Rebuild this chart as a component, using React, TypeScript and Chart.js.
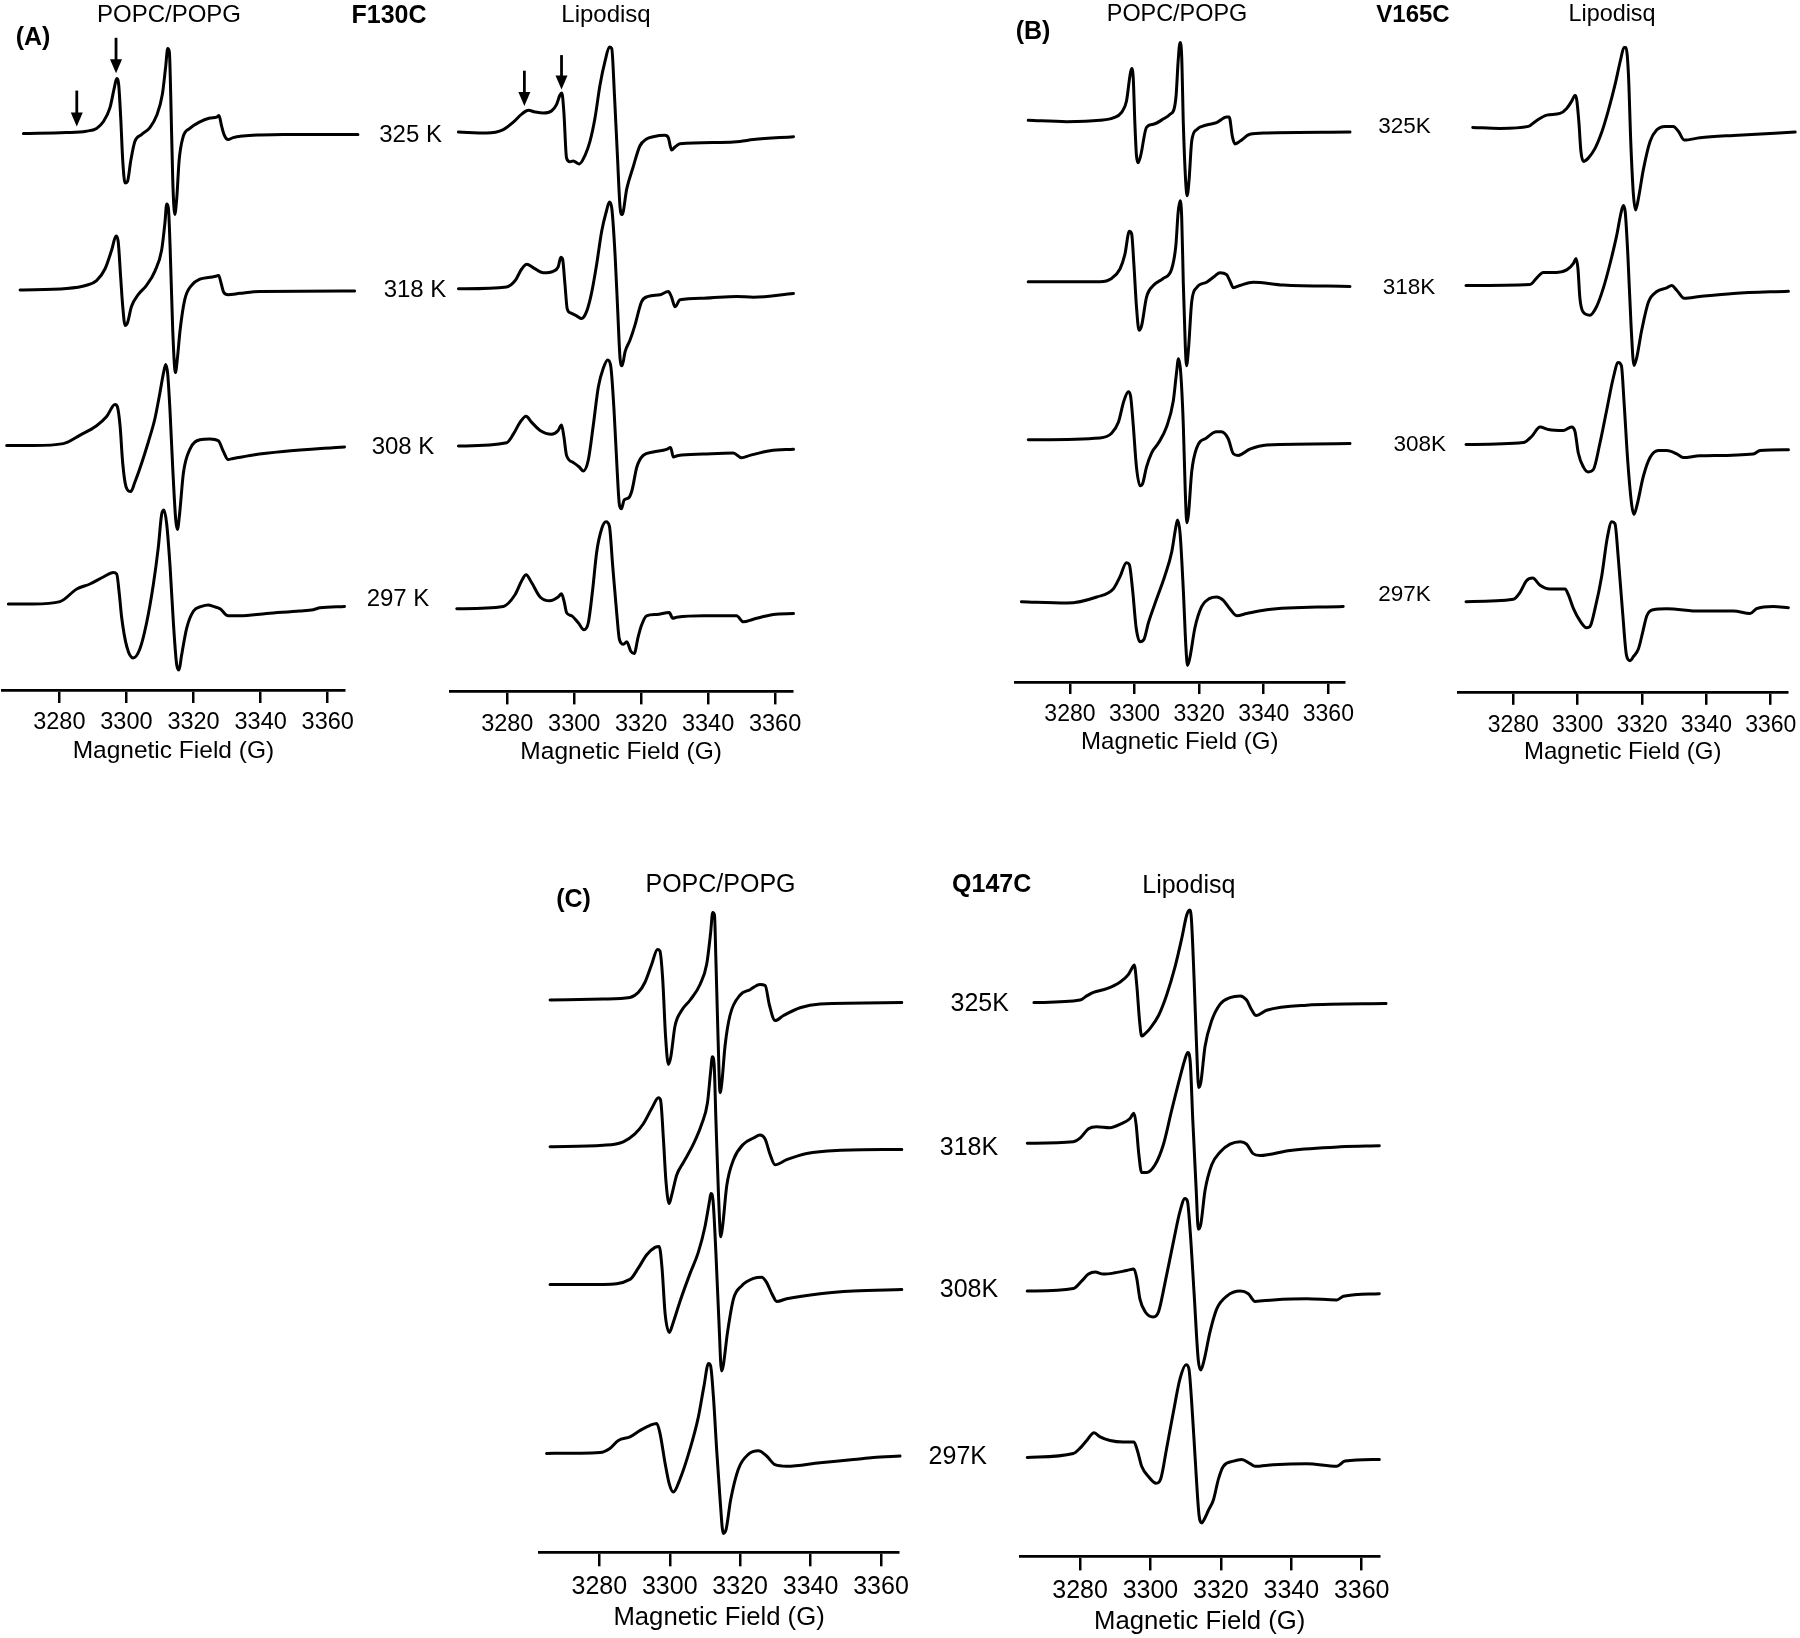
import React, { useEffect, useRef } from 'react';
import { Chart, registerables } from 'chart.js';

Chart.register(...registerables);

type Pt = [number, number];

const FONT = '"Liberation Sans", Arial, Helvetica, sans-serif';
const FIELD_MIN = 3263;
const FIELD_MAX = 3365;
const FIELD_TICKS = [3280, 3300, 3320, 3340, 3360];
const AXIS_TITLE = 'Magnetic Field (G)';

// ---------- (A) F130C, POPC/POPG ----------
const A_POPC_325: Pt[] = [[3269.3,0],[3282,1],[3288,2.4],[3291.1,5.2],[3293.1,11.8],[3295.1,26],[3296.4,46],[3297.1,55],[3297.7,48.6],[3298.3,15.6],[3298.9,-27],[3299.6,-49.5],[3300.3,-48],[3301.3,-27],[3302.5,-8],[3304.5,-1],[3307,6],[3309,18],[3310.7,39],[3311.7,67],[3312.3,85],[3312.8,81.7],[3313.2,39],[3313.8,-45.8],[3314.4,-81],[3315,-64.6],[3315.7,-27],[3316.9,-3.3],[3318.9,5.2],[3321.9,11.8],[3324.9,15.6],[3326.9,16.5],[3327.6,18],[3328.3,8.5],[3329.1,-1],[3330.3,-6],[3331.8,-4],[3334.8,-2.4],[3339.8,-1.4],[3346.7,-0.8],[3369,-0.8]];
const A_POPC_318: Pt[] = [[3268.3,0],[3282.2,1.4],[3288.1,4.7],[3291.1,9.4],[3293.6,21],[3295.6,40],[3296.9,54],[3297.5,49.6],[3298.3,11.8],[3298.9,-16.5],[3299.6,-35.4],[3300.3,-33],[3301.5,-16.5],[3303.5,-4.7],[3306,4.7],[3308.5,18.9],[3310.5,40],[3311.5,68],[3312,86],[3312.5,82],[3313,45],[3313.8,-40],[3314.6,-82.6],[3315.2,-68],[3316,-40],[3317.4,-9.4],[3319.4,4.7],[3321.9,10.8],[3324.9,12.7],[3326.9,14],[3327.5,14.6],[3328.2,7],[3329,-2.4],[3330.3,-4.7],[3333.8,-3.3],[3339.8,-1.4],[3368,-1]];
const A_POPC_308: Pt[] = [[3264.3,0],[3272.3,0],[3281.2,1.9],[3286.2,10.4],[3291.1,19.8],[3294.1,29],[3296.6,41],[3297.3,38.7],[3298.1,19.8],[3298.9,-18],[3299.9,-41.5],[3301.3,-46],[3302.5,-36.8],[3304.5,-18],[3306.5,3.3],[3308.5,27],[3310,53],[3311,71.7],[3311.7,81],[3312.3,71.7],[3313,34],[3313.8,-22.6],[3314.7,-74.5],[3315.2,-84],[3315.8,-70],[3317,-27],[3318.9,-3.8],[3321.9,5.7],[3324.9,6.6],[3327.4,4.7],[3328.9,-6],[3330.3,-14],[3331.8,-13],[3337.8,-9.4],[3346.7,-6],[3365,-1.4]];
const A_POPC_297: Pt[] = [[3264.8,0],[3272.3,0],[3280.2,2.4],[3285.2,15],[3289.1,20],[3293.1,27],[3296.1,31.6],[3297.1,30],[3297.9,9.4],[3298.6,-14],[3300.1,-42.5],[3302,-54],[3304,-45],[3306,-19],[3308,19],[3309.5,56.6],[3310.5,89.7],[3311.2,94],[3312,80],[3313,37.8],[3314,-19],[3315,-61],[3315.7,-66],[3316.4,-52],[3318,-23.6],[3320,-7],[3322.4,-2.4],[3324.4,-1],[3325.9,-2.4],[3327.9,-4.7],[3330.3,-11.8],[3333.8,-11.8],[3341.8,-9.4],[3351.7,-7],[3355.7,-5.7],[3357.7,-3.8],[3365,-2.4]];

// ---------- (A) F130C, Lipodisq ----------
const A_LIPO_325: Pt[] = [[3265.4,0],[3273.8,-1],[3278.8,2.4],[3281.8,9.9],[3284.3,17.9],[3286.3,21.7],[3288.3,20],[3290.8,18.9],[3293.2,21],[3294.7,27.4],[3295.7,36.8],[3296.3,39],[3296.9,20],[3297.7,-26],[3298.7,-29.7],[3299.7,-29],[3301.5,-32],[3303.2,-23.6],[3304.7,-9.4],[3306.2,14],[3307.7,47],[3309.2,70.8],[3310.5,85],[3311.2,83.6],[3312,37.8],[3312.9,-23.6],[3313.7,-75.5],[3314.3,-82.6],[3315.7,-56.6],[3317.6,-35],[3319.6,-14],[3321.6,-7],[3323.6,-4.7],[3327.1,-3.3],[3328.1,-5.7],[3329.1,-18],[3330.1,-15],[3331.6,-11.8],[3343.5,-10.4],[3349.5,-9.4],[3353.5,-7.6],[3365.5,-4.7]];
const A_LIPO_318: Pt[] = [[3265.4,0],[3279.8,1.9],[3282.3,8],[3284.3,19.8],[3285.8,24.5],[3287.8,21],[3290.8,16],[3293.7,17.5],[3295.2,22],[3296,31.6],[3296.5,30],[3297.2,5.7],[3297.9,-20],[3298.9,-24],[3300.7,-27],[3302.2,-29.7],[3303.7,-22.6],[3305.2,-3.8],[3306.7,24.5],[3308.2,57.6],[3309.7,78.8],[3310.5,86.8],[3311.2,81],[3312.2,34],[3313,-22.6],[3313.7,-70],[3314.3,-77],[3315.2,-62.8],[3316.7,-51],[3318.1,-36.8],[3320.1,-13],[3322.1,-7.6],[3325.6,-6],[3328.1,-2.8],[3329.1,-8.5],[3330.1,-18],[3331.6,-11],[3338.6,-9.4],[3348.5,-7.6],[3353.5,-8.5],[3365.5,-4.7]];
const A_LIPO_308: Pt[] = [[3265.4,0],[3279.8,3.3],[3281.8,11.8],[3283.8,23.6],[3285.6,29.7],[3287.3,23.6],[3289.8,15.6],[3293.2,11.8],[3295.2,15.6],[3296.2,21],[3296.9,9.4],[3297.7,-9.4],[3299.7,-16.5],[3301.5,-21],[3302.7,-25],[3304.2,-14],[3305.7,21],[3307.2,59],[3308.7,77.9],[3310,86],[3310.9,80],[3311.9,35],[3312.7,-16.5],[3313.5,-59],[3314.1,-62.8],[3314.9,-54],[3316.2,-52],[3317.2,-45],[3318.7,-21],[3320.6,-9.4],[3323.6,-6],[3327.6,-3.3],[3328.8,-1.4],[3329.6,-11],[3331.1,-9.4],[3338.6,-8],[3347.5,-7],[3350,-11.8],[3352.5,-9.4],[3358.5,-4.7],[3365.5,-3.3]];
const A_LIPO_297: Pt[] = [[3264.9,0],[3278.8,2.4],[3282.3,14],[3284.3,28],[3285.6,34],[3287.3,26],[3289.8,11.8],[3292.7,8],[3295.2,11.8],[3296.2,15],[3297,7],[3297.7,-3.8],[3299.2,-7],[3301.2,-14],[3302.9,-21],[3304.2,-14],[3305.5,19],[3306.7,56.6],[3308.2,80],[3309.5,87],[3310.5,82.6],[3311.5,42.5],[3312.7,-4.7],[3313.5,-30.7],[3314.7,-35.4],[3315.7,-33],[3316.9,-42.5],[3317.9,-44.8],[3319.1,-28],[3320.1,-16.5],[3321.6,-7],[3324.6,-5.7],[3328.4,-3.8],[3329.4,-9.4],[3330.6,-8.5],[3338.6,-7],[3348.5,-7],[3350.5,-13],[3353.5,-10.4],[3359.5,-5.7],[3365.5,-4.7]];

// ---------- (B) V165C, POPC/POPG ----------
const B_POPC_325: Pt[] = [[3267.1,0],[3279,-1.4],[3289.3,0],[3293.4,2.4],[3296,8],[3297.5,19],[3298.6,44.8],[3299.1,51.9],[3299.6,42.5],[3300.1,-2.4],[3300.6,-35.4],[3301.1,-42.5],[3301.9,-35.4],[3303.7,-7],[3305.8,-4],[3309,1.5],[3311,6],[3312.3,12],[3312.9,26],[3313.5,59],[3314.1,77.9],[3314.6,63.7],[3315.1,-2.4],[3315.8,-59],[3316.3,-75.5],[3316.9,-59],[3317.7,-21],[3319.2,-9.4],[3322.3,-4.7],[3325.4,-2.4],[3328.5,3.3],[3329.3,3.3],[3330.3,-16.5],[3331.1,-23.6],[3332.6,-21],[3335.7,-14],[3340.9,-12.7],[3366.7,-11.8]];
const B_POPC_318: Pt[] = [[3267.1,0],[3289.3,0],[3292.9,3.3],[3295.5,12.7],[3297,27],[3298.4,50.5],[3299.1,48],[3299.8,17.5],[3300.6,-25],[3301.4,-48.6],[3302.2,-43.9],[3303.7,-15.6],[3305.8,-3.8],[3308.9,3.3],[3311.5,12.7],[3312.8,36.3],[3313.5,69.4],[3314.1,81],[3314.6,64.7],[3315.1,-1.4],[3315.7,-62.8],[3316.1,-84],[3316.7,-67.5],[3317.7,-20],[3319.2,-6],[3322.3,-0.5],[3324.9,5.7],[3326.4,9],[3328.5,7],[3329.5,1],[3330.6,-6],[3332.6,-3.8],[3336.7,-0.5],[3346,-3.3],[3366.7,-4.7]];
const B_POPC_308: Pt[] = [[3267.1,0],[3289.3,1.9],[3292.9,6.6],[3295,17.5],[3296.7,38.7],[3298.1,48],[3298.8,43.4],[3299.6,15],[3300.6,-27.4],[3301.7,-46],[3302.5,-43.9],[3303.7,-27.4],[3305.3,-13],[3307.3,-3.8],[3309.9,12.7],[3312,38.7],[3313,67],[3313.6,81],[3314.3,67],[3315.1,15],[3315.7,-51],[3316.2,-83],[3316.7,-74.5],[3317.7,-32],[3319.2,-8.5],[3322.3,1.9],[3325.4,8],[3326.9,8],[3329,1],[3330.6,-14],[3332.1,-15.6],[3335.7,-9.4],[3340.9,-5.2],[3366.7,-3.8]];
const B_POPC_297: Pt[] = [[3265,0],[3279,-1.4],[3288.3,4.7],[3293.4,12.7],[3295.5,25],[3297.5,39],[3298.4,37],[3299.4,11.8],[3300.5,-26],[3301.7,-40],[3302.9,-37.8],[3304.3,-21],[3306.8,2.4],[3309.4,26],[3311.5,49.6],[3312.7,73],[3313.3,81.6],[3314.1,68.4],[3315.1,11.8],[3315.9,-44.8],[3316.4,-63.7],[3317.1,-56.6],[3318.7,-26],[3320.8,-4.7],[3323.3,3.3],[3325.4,4.7],[3327.5,1.4],[3329.5,-7],[3331.6,-14],[3334.7,-11.8],[3340.9,-8],[3364.6,-4.7]];

// ---------- (B) V165C, Lipodisq ----------
const B_LIPO_325: Pt[] = [[3267.4,0],[3275.9,-1],[3284.7,1],[3287.3,7],[3290.4,12.3],[3294.5,14],[3296.6,19],[3298.1,26],[3299.2,32],[3299.7,28],[3300.4,4.7],[3301,-23.6],[3301.8,-34],[3303.3,-30.7],[3305.4,-21],[3307.5,-4.7],[3309.5,16.5],[3311.6,42.5],[3313.4,68.4],[3314.4,80],[3315,80],[3315.8,51.9],[3316.5,-14],[3317.3,-66],[3318,-82.6],[3318.9,-70.8],[3320.4,-42.5],[3322.5,-14],[3324.6,-2.4],[3327.2,1],[3329.7,1],[3331.3,-3.8],[3333.1,-12.7],[3338,-10.4],[3348.4,-8],[3367.6,-4.7]];
const B_LIPO_318: Pt[] = [[3265.3,0],[3285.2,1],[3287.3,7.6],[3289.3,13],[3293.5,13],[3296.6,15.6],[3298.7,22.2],[3299.5,27],[3300.1,16.5],[3300.7,-12.7],[3301.6,-26],[3303.8,-29.7],[3305.9,-21],[3308,-2.4],[3310,21],[3312.1,49.6],[3313.5,73],[3314.2,80],[3314.8,73],[3315.6,30.7],[3316.6,-40],[3317.5,-80],[3318.3,-73],[3319.9,-44.8],[3322,-16.5],[3324.6,-6],[3327.7,-2.4],[3329.2,0],[3330.8,-4.7],[3333.1,-12.7],[3338,-11],[3348.4,-8],[3365.5,-5.7]];
const B_LIPO_308: Pt[] = [[3265.3,0],[3283.1,1.9],[3285.7,8],[3288.3,17.5],[3290.9,15],[3295.5,14],[3298.1,17.5],[3299.2,12.7],[3300.2,-8.5],[3301.8,-22.6],[3303.3,-27.4],[3304.9,-25],[3306.9,1],[3309,34],[3311.1,67],[3312.6,82],[3313.6,78.8],[3314.4,43.4],[3315.6,-18],[3316.8,-60.4],[3317.5,-70],[3318.5,-60],[3320.4,-32],[3322.5,-13],[3325.1,-6],[3327.7,-6],[3330.8,-9.4],[3332.8,-13],[3338,-11.3],[3354.6,-9.4],[3356.7,-6],[3365.5,-5.2]];
const B_LIPO_297: Pt[] = [[3265.3,0],[3280,2.4],[3282.1,9.4],[3284.1,21],[3286,23.6],[3288.3,16.5],[3291.4,12.7],[3296.1,12.7],[3297.1,7],[3298.7,-7],[3300.7,-19],[3302.8,-26],[3303.8,-25],[3305.4,-7],[3307.5,26],[3309.2,63.7],[3310.6,80],[3311.6,78],[3312.6,44.8],[3314,-11.8],[3315.2,-54],[3316.3,-59],[3317.3,-55],[3318.9,-47],[3320.2,-30.7],[3321.5,-14],[3323.5,-8],[3327.7,-7],[3338,-9.4],[3348.4,-9.4],[3353.6,-11.8],[3355.6,-7],[3360.8,-4.7],[3365.5,-6]];

// ---------- (C) Q147C, POPC/POPG ----------
const C_POPC_325: Pt[] = [[3266,0],[3281.1,1],[3288.7,2.6],[3291.1,7.7],[3293,18],[3294.9,36],[3296.5,50.5],[3297.2,49],[3298,20.6],[3298.8,-36],[3299.6,-64.4],[3300.3,-56.7],[3301.5,-25.8],[3303.4,-10.3],[3305.8,0],[3308.6,15.5],[3310.5,36],[3311.6,67],[3312.2,87.6],[3312.7,85],[3313.1,41],[3313.7,-36],[3314.3,-92.7],[3314.8,-82.4],[3315.7,-46],[3317.1,-15.5],[3320,5],[3322.8,10.3],[3325.6,15.5],[3327.1,14.4],[3328.3,-5],[3329.9,-20.6],[3332.3,-15.5],[3337,-7.7],[3342.7,-4],[3365.9,-2.6]];
const C_POPC_318: Pt[] = [[3266,0],[3281.1,1.5],[3286.8,5],[3290.1,12.9],[3292.5,23],[3294.9,38.6],[3296.8,49],[3297.4,46.4],[3298.2,7.7],[3298.9,-33.5],[3299.8,-56.7],[3300.5,-49],[3302,-28],[3303.9,-15.5],[3306.7,2.6],[3309.1,23],[3310.7,43.8],[3311.6,74.7],[3312.1,90],[3312.6,82.4],[3313.1,28],[3313.8,-43.8],[3314.5,-90],[3315,-79.8],[3316.2,-38.6],[3318.1,-12.9],[3320.9,2.6],[3323.8,8.8],[3325.6,11.8],[3327.1,7.7],[3328.5,-7.7],[3329.9,-18],[3333.2,-12.9],[3338.9,-6.7],[3347.4,-3.6],[3365.9,-2.6]];
const C_POPC_308: Pt[] = [[3266,0],[3281.1,0],[3288.7,5],[3291.1,16.5],[3293.4,29.4],[3295.8,37],[3297,38],[3297.8,16.5],[3298.7,-30],[3299.9,-48],[3300.8,-40],[3302.9,-17],[3305.8,11.3],[3308.1,32],[3310,57.7],[3311.3,83.5],[3311.7,91],[3312.3,83.5],[3313.1,32],[3314,-40],[3314.7,-86.5],[3315.2,-81],[3316.4,-48],[3318.1,-14.4],[3320.4,-1.5],[3323.8,6],[3326.1,7.2],[3327.5,2],[3329,-9.3],[3330.4,-17],[3333.2,-14.4],[3342.7,-9.3],[3352.2,-6.7],[3365.9,-5.2]];
const C_POPC_297: Pt[] = [[3265,0],[3280.2,1],[3283,5],[3285.4,13],[3288.7,16.5],[3291.6,23],[3294.4,28],[3296.3,30],[3297.2,20.6],[3298.7,-10.3],[3299.9,-31],[3301,-38.6],[3302.9,-25.8],[3305.8,5],[3308.1,36],[3309.7,67],[3311,90],[3311.6,87.6],[3312.4,56.7],[3313.3,5],[3314.3,-46.4],[3315.2,-80],[3316,-76],[3317.3,-46.4],[3319.5,-15.5],[3322.3,-1],[3325.2,2.6],[3327.5,-2.6],[3329.9,-11.3],[3333.2,-12.9],[3342.7,-9.3],[3352.2,-6.2],[3357.8,-4],[3365.4,-2.6]];

// ---------- (C) Q147C, Lipodisq ----------
const C_LIPO_325: Pt[] = [[3266.9,0],[3280,2.6],[3281.9,6.7],[3283.8,10.3],[3287.6,13.9],[3291.4,20.6],[3293.7,28],[3295,36],[3295.4,37.6],[3296.1,18],[3296.9,-18],[3297.5,-33.5],[3298.5,-31],[3299.9,-25.8],[3302.3,-12.9],[3304.6,7.7],[3307,36],[3308.9,64.4],[3310.3,87.6],[3311.1,92.7],[3311.6,85],[3312.4,23],[3313.1,-43.8],[3313.7,-85],[3314.3,-80],[3315.5,-43.8],[3317.4,-18],[3319.8,-1.5],[3322.6,5],[3325.5,6.7],[3327.3,2.6],[3328.8,-7.7],[3330,-13],[3333,-7.7],[3344.4,-2.6],[3366.9,-1]];
const C_LIPO_318: Pt[] = [[3265,0],[3278.1,1.5],[3280,5],[3282.4,14.4],[3284.7,16.5],[3288.5,15.5],[3291.8,19.6],[3294.2,24.7],[3295.3,30],[3295.9,19.6],[3296.7,-11.3],[3297.5,-29.4],[3298.9,-29.4],[3301.3,-21.6],[3303.7,-1],[3306,32.5],[3308.4,66],[3309.8,84],[3310.6,90.7],[3311.3,81.4],[3312,24.7],[3313,-47.4],[3313.6,-86],[3314.3,-81],[3315.5,-47.4],[3317.4,-21.6],[3319.8,-8.8],[3322.6,-1],[3325.5,1.5],[3327.3,-1],[3329.1,-10.3],[3331.1,-12.4],[3339.7,-7.2],[3353.9,-3.6],[3365,-2.6]];
const C_LIPO_308: Pt[] = [[3265,0],[3278.1,2.6],[3280.5,10.3],[3282.4,17],[3284.3,19],[3286.6,17],[3289.5,18],[3293.3,20.6],[3295.3,22],[3296.1,12.9],[3297,-7.7],[3298.5,-20.6],[3300.8,-25.8],[3302.3,-20.6],[3304.1,7.7],[3306.5,49],[3308.4,80],[3309.8,92.7],[3310.5,90],[3311.3,59],[3312.4,-2.6],[3313.6,-69.6],[3314.3,-78.8],[3315.2,-69.6],[3316.9,-41],[3318.8,-18],[3321.7,-5],[3325.5,0],[3327.8,-2.6],[3329.7,-10.3],[3334.9,-8.8],[3344.4,-7.7],[3352.9,-8.8],[3354.8,-5.2],[3365,-2.6]];
const C_LIPO_297: Pt[] = [[3265,0],[3278.1,4],[3280,9.3],[3281.9,17],[3284,24.7],[3285.7,20.6],[3288.5,17],[3292.3,15.5],[3295.3,15.5],[3296.3,6.7],[3297.5,-8.8],[3299.4,-19],[3301.6,-25.8],[3302.9,-21.6],[3304.6,9.3],[3306.5,45.3],[3308.4,78.8],[3310.1,92.7],[3310.9,89],[3311.7,55.6],[3312.7,-1],[3313.8,-57.7],[3314.6,-65.4],[3315.5,-60.3],[3316.5,-52.5],[3317.9,-42.2],[3319.3,-21.6],[3320.7,-8.8],[3323.6,-3.6],[3325.9,-2],[3328.3,-6.2],[3329.7,-8.8],[3334.9,-7.2],[3344.4,-6.2],[3352.9,-8.8],[3355.3,-3.6],[3365,-2]];

// arrows: [field, top (amplitude of 325 K trace), tip]
const A_POPC_ARROWS: [number, number, number][] = [[3285.2, 43, 7], [3296.9, 95.8, 60.4]];
const A_LIPO_ARROWS: [number, number, number][] = [[3285.1, 61.3, 26], [3296.2, 76.9, 42.5]];

// vertical stacking offsets of the 325/318/308/297 K traces above each axis (layout)
const A_POPC_OFFSETS = [556.4, 400, 244.5, 86];
const A_LIPO_OFFSETS = [559.4, 402.6, 245.4, 82.6];
const B_POPC_OFFSETS = [561.7, 400.3, 242.2, 80.3];
const B_LIPO_OFFSETS = [565.4, 407.3, 248.3, 91.1];
const C_POPC_OFFSETS = [552.3, 405.5, 267.9, 98.9];
const C_LIPO_OFFSETS = [553.8, 413.2, 265.3, 98.9];

interface PanelCfg {
  key: string;
  traces: Pt[][];
  offsets: number[];
  arrows?: [number, number, number][];
  left: number;
  right: number;
  axisY: number;
  top: number;
  tickFont: number;
  titleFont: number;
  tickLen: number;
  labelGap: number;
  titleGap: number;
}

const AB_STYLE = { tickFont: 23.5, titleFont: 24.5, tickLen: 13, labelGap: 33, titleGap: 61 };
const B_STYLE = { tickFont: 23, titleFont: 24, tickLen: 12, labelGap: 33, titleGap: 60 };
const C_STYLE = { tickFont: 25, titleFont: 25.7, tickLen: 14, labelGap: 35, titleGap: 66 };

const PANELS: PanelCfg[] = [
  { key: 'A1', traces: [A_POPC_325, A_POPC_318, A_POPC_308, A_POPC_297], offsets: A_POPC_OFFSETS, arrows: A_POPC_ARROWS, left: 2.3, right: 344.5, axisY: 690, top: 0, ...AB_STYLE },
  { key: 'A2', traces: [A_LIPO_325, A_LIPO_318, A_LIPO_308, A_LIPO_297], offsets: A_LIPO_OFFSETS, arrows: A_LIPO_ARROWS, left: 450.4, right: 791.8, axisY: 691.4, top: 0, ...AB_STYLE },
  { key: 'B1', traces: [B_POPC_325, B_POPC_318, B_POPC_308, B_POPC_297], offsets: B_POPC_OFFSETS, left: 1015, right: 1344.5, axisY: 682, top: 0, ...B_STYLE },
  { key: 'B2', traces: [B_LIPO_325, B_LIPO_318, B_LIPO_308, B_LIPO_297], offsets: B_LIPO_OFFSETS, left: 1458.6, right: 1786.8, axisY: 692.8, top: 0, ...B_STYLE },
  { key: 'C1', traces: [C_POPC_325, C_POPC_318, C_POPC_308, C_POPC_297], offsets: C_POPC_OFFSETS, left: 539.5, right: 898.6, axisY: 1552.3, top: 840, ...C_STYLE },
  { key: 'C2', traces: [C_LIPO_325, C_LIPO_318, C_LIPO_308, C_LIPO_297], offsets: C_LIPO_OFFSETS, left: 1020.2, right: 1379.3, axisY: 1556.4, top: 840, ...C_STYLE },
];

interface TextItem { t: string; x: number; y: number; s: number; b?: boolean }
const TEXTS: TextItem[] = [
  { t: '(A)', x: 33, y: 36, s: 25, b: true },
  { t: 'POPC/POPG', x: 169, y: 14, s: 24 },
  { t: 'F130C', x: 389, y: 14, s: 25, b: true },
  { t: 'Lipodisq', x: 606, y: 14, s: 24 },
  { t: '325 K', x: 410.6, y: 134, s: 24 },
  { t: '318 K', x: 415, y: 289, s: 24 },
  { t: '308 K', x: 403, y: 446, s: 24 },
  { t: '297 K', x: 398, y: 598, s: 24 },
  { t: '(B)', x: 1033, y: 30, s: 25, b: true },
  { t: 'POPC/POPG', x: 1177, y: 14, s: 23.4 },
  { t: 'V165C', x: 1413, y: 14, s: 24, b: true },
  { t: 'Lipodisq', x: 1612, y: 14, s: 23.4 },
  { t: '325K', x: 1404.5, y: 126.4, s: 22.5 },
  { t: '318K', x: 1409, y: 287, s: 22.5 },
  { t: '308K', x: 1419.7, y: 444, s: 22.5 },
  { t: '297K', x: 1404.5, y: 594, s: 22.5 },
  { t: '(C)', x: 573.5, y: 897.5, s: 25, b: true },
  { t: 'POPC/POPG', x: 720.5, y: 883, s: 25 },
  { t: 'Q147C', x: 991.7, y: 883, s: 25, b: true },
  { t: 'Lipodisq', x: 1188.8, y: 884, s: 25 },
  { t: '325K', x: 979.7, y: 1002, s: 25 },
  { t: '318K', x: 969, y: 1145.7, s: 25 },
  { t: '308K', x: 969, y: 1287.5, s: 25 },
  { t: '297K', x: 957.8, y: 1455, s: 25 },
];

const LINE_W = 3;

function makeArrowPlugin(p: PanelCfg) {
  return {
    id: 'arrows_' + p.key,
    afterDatasetsDraw(chart: any) {
      if (!p.arrows) return;
      const ctx = chart.ctx;
      const xs = chart.scales.x;
      const ys = chart.scales.y;
      ctx.save();
      ctx.strokeStyle = '#000';
      ctx.fillStyle = '#000';
      ctx.lineWidth = 2.8;
      for (const [g, top, tip] of p.arrows) {
        const px = xs.getPixelForValue(g);
        const y0 = ys.getPixelForValue(top + p.offsets[0]);
        const y1 = ys.getPixelForValue(tip + p.offsets[0]);
        ctx.beginPath();
        ctx.moveTo(px, y0);
        ctx.lineTo(px, y1 - 10);
        ctx.stroke();
        ctx.beginPath();
        ctx.moveTo(px - 6, y1 - 14);
        ctx.lineTo(px + 6, y1 - 14);
        ctx.lineTo(px, y1);
        ctx.closePath();
        ctx.fill();
      }
      ctx.restore();
    },
  };
}

function Spectrum({ p }: { p: PanelCfg }) {
  const ref = useRef<HTMLCanvasElement>(null);
  const canvasLeft = Math.floor(p.left - 30);
  const padL = p.left - canvasLeft;
  const padR = 40;
  const width = Math.ceil(p.right + padR - canvasLeft);
  const realPadR = width - (p.right - canvasLeft);
  const tickLH = p.tickFont * 1.2;
  const titleLH = p.titleFont * 1.2;
  const scaleH = p.titleGap + titleLH / 2;
  const areaH = p.axisY - p.top;
  const height = Math.ceil(areaH + scaleH + 2);
  const padB = height - areaH - scaleH;
  const labelPad = p.labelGap - p.tickLen - tickLH / 2;

  useEffect(() => {
    if (!ref.current) return;
    const chart = new Chart(ref.current, {
      type: 'line',
      data: {
        datasets: p.traces.map((tr, i) => ({
          data: tr.map(([x, y]) => ({ x, y: y + p.offsets[i] })),
          borderColor: '#000',
          backgroundColor: '#000',
          borderWidth: LINE_W,
          pointRadius: 0,
          pointHoverRadius: 0,
          cubicInterpolationMode: 'monotone',
          borderJoinStyle: 'round',
          borderCapStyle: 'round',
          fill: false,
          clip: false,
        })),
      },
      options: {
        animation: false,
        responsive: false,
        maintainAspectRatio: false,
        devicePixelRatio: 1,
        events: [],
        layout: { padding: { left: padL, right: realPadR, top: 0, bottom: padB } },
        plugins: { legend: { display: false }, tooltip: { enabled: false }, title: { display: false } },
        scales: {
          x: {
            type: 'linear',
            position: 'bottom',
            bounds: 'data',
            afterDataLimits: (s: any) => { s.min = FIELD_MIN; s.max = FIELD_MAX; },
            afterBuildTicks: (s: any) => { s.ticks = FIELD_TICKS.map((v) => ({ value: v })); },
            afterFit: (s: any) => { s.height = scaleH; },
            grid: { display: true, drawOnChartArea: false, drawTicks: true, tickLength: p.tickLen, color: '#000', lineWidth: 2.5 },
            border: { display: true, color: '#000', width: 2.8 },
            ticks: {
              color: '#000',
              autoSkip: false,
              maxRotation: 0,
              minRotation: 0,
              padding: labelPad,
              font: { family: FONT, size: p.tickFont, lineHeight: 1.2 },
              callback: (v: any) => String(v),
            },
            title: {
              display: true,
              text: AXIS_TITLE,
              color: '#000',
              font: { family: FONT, size: p.titleFont, lineHeight: 1.2 },
              padding: { top: 0, bottom: 0 },
            },
          },
          y: { display: false, min: 0, max: areaH },
        },
      } as any,
      plugins: [makeArrowPlugin(p)],
    } as any);
    return () => chart.destroy();
  }, []);

  return (
    <canvas
      ref={ref}
      width={width}
      height={height}
      style={{ position: 'absolute', left: canvasLeft, top: p.top, width, height }}
    />
  );
}

export default function App() {
  return (
    <div
      style={{
        position: 'absolute',
        left: 0,
        top: 0,
        width: 1800,
        height: 1638,
        overflow: 'hidden',
        background: '#fff',
        fontFamily: FONT,
        color: '#000',
      }}
    >
      {PANELS.map((p) => (
        <Spectrum key={p.key} p={p} />
      ))}
      {TEXTS.map((it, i) => (
        <div
          key={i}
          style={{
            position: 'absolute',
            left: it.x,
            top: it.y,
            transform: 'translate(-50%, -50%)',
            fontSize: it.s,
            fontWeight: it.b ? 700 : 400,
            lineHeight: 1,
            whiteSpace: 'nowrap',
            zIndex: 2,
          }}
        >
          {it.t}
        </div>
      ))}
    </div>
  );
}
